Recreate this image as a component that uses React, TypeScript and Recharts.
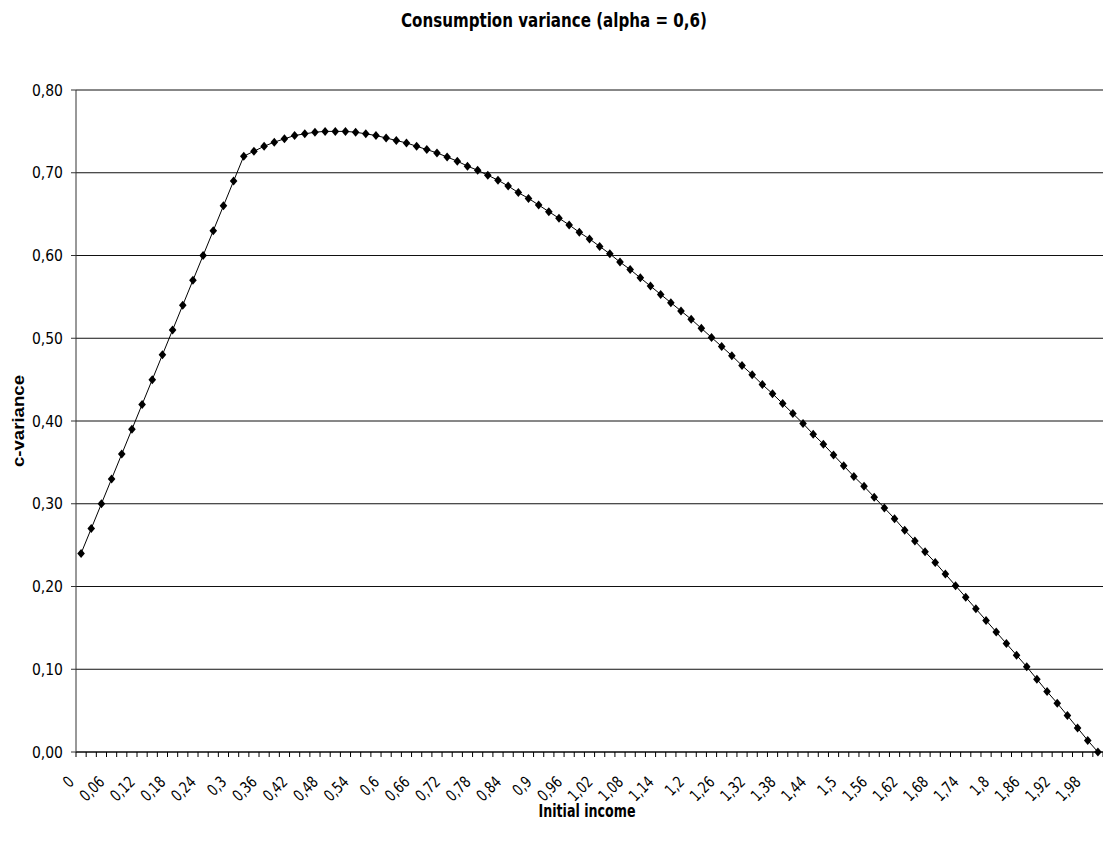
import { LineChart, Line, XAxis, YAxis, CartesianGrid } from "recharts";

// x categories (initial income), as printed on the axis
const incomes = [
  "0", "0,02", "0,04", "0,06", "0,08", "0,1", "0,12", "0,14", "0,16", "0,18",
  "0,2", "0,22", "0,24", "0,26", "0,28", "0,3", "0,32", "0,34", "0,36", "0,38",
  "0,4", "0,42", "0,44", "0,46", "0,48", "0,5", "0,52", "0,54", "0,56", "0,58",
  "0,6", "0,62", "0,64", "0,66", "0,68", "0,7", "0,72", "0,74", "0,76", "0,78",
  "0,8", "0,82", "0,84", "0,86", "0,88", "0,9", "0,92", "0,94", "0,96", "0,98",
  "1", "1,02", "1,04", "1,06", "1,08", "1,1", "1,12", "1,14", "1,16", "1,18",
  "1,2", "1,22", "1,24", "1,26", "1,28", "1,3", "1,32", "1,34", "1,36", "1,38",
  "1,4", "1,42", "1,44", "1,46", "1,48", "1,5", "1,52", "1,54", "1,56", "1,58",
  "1,6", "1,62", "1,64", "1,66", "1,68", "1,7", "1,72", "1,74", "1,76", "1,78",
  "1,8", "1,82", "1,84", "1,86", "1,88", "1,9", "1,92", "1,94", "1,96", "1,98",
  "2",
];

// consumption variance
const cVariance = [
  0.24, 0.27, 0.3, 0.33, 0.36, 0.39, 0.42, 0.45, 0.48, 0.51,
  0.54, 0.57, 0.6, 0.63, 0.66, 0.69, 0.72, 0.726, 0.732, 0.737,
  0.741, 0.745, 0.747, 0.749, 0.75, 0.75, 0.75, 0.749, 0.747, 0.745,
  0.742, 0.739, 0.736, 0.732, 0.728, 0.724, 0.719, 0.714, 0.708, 0.703,
  0.697, 0.691, 0.684, 0.676, 0.669, 0.661, 0.653, 0.645, 0.637, 0.628,
  0.62, 0.611, 0.602, 0.592, 0.583, 0.573, 0.563, 0.553, 0.543, 0.533,
  0.523, 0.512, 0.501, 0.49, 0.479, 0.467, 0.456, 0.444, 0.433, 0.421,
  0.409, 0.397, 0.384, 0.372, 0.359, 0.346, 0.333, 0.321, 0.308, 0.295,
  0.282, 0.268, 0.255, 0.242, 0.229, 0.215, 0.201, 0.187, 0.173, 0.159,
  0.145, 0.131, 0.117, 0.103, 0.088, 0.073, 0.059, 0.044, 0.029, 0.014,
  0,
];

const varianceTicks = [0, 0.1, 0.2, 0.3, 0.4, 0.5, 0.6, 0.7, 0.8];

const data = incomes.map((income, i) => ({ income, cvar: cVariance[i] }));

const WIDTH = 1103;
const HEIGHT = 852;
const PLOT_LEFT = 76;
const HALF_STEP = (WIDTH - PLOT_LEFT) / incomes.length / 2;
const NARROW = "'Liberation Sans Narrow', 'Arial Narrow', 'DejaVu Sans Condensed', sans-serif";

const fmt = (v: number) => v.toFixed(2).replace(".", ",");

// tick marks sit between categories, labels only on every third one
const IncomeTick = (props: any) => {
  const { x, y, index, payload } = props;
  const tx = x - 6;
  const ty = y + 31;
  return (
    <g>
      <line x1={x - HALF_STEP} x2={x - HALF_STEP} y1={y} y2={y + 5} stroke="#000" />
      {index === incomes.length - 1 && (
        <line x1={x + HALF_STEP} x2={x + HALF_STEP} y1={y} y2={y + 5} stroke="#000" />
      )}
      {index % 3 === 0 && (
        <text
          x={0}
          y={0}
          transform={`translate(${tx}, ${ty}) rotate(-45) scale(0.85, 1)`}
          textAnchor="end"
          fontFamily={NARROW}
          fontSize={16}
          fill="#000"
        >
          {payload.value}
        </text>
      )}
    </g>
  );
};

const Diamond = (props: any) => {
  const { cx, cy, index } = props;
  if (cx == null || cy == null) return <g key={index} />;
  return (
    <polygon
      key={index}
      points={`${cx},${cy - 4.5} ${cx + 3.8},${cy} ${cx},${cy + 4.5} ${cx - 3.8},${cy}`}
      fill="#000"
    />
  );
};

export default function App() {
  return (
    <div style={{ position: "absolute", left: 0, top: 0, width: WIDTH, height: HEIGHT, background: "#fff" }}>
      <LineChart
        width={WIDTH}
        height={HEIGHT}
        data={data}
        margin={{ top: 90, right: 0, bottom: 40, left: 0 }}
      >
        <CartesianGrid vertical={false} stroke="#111" />
        <XAxis
          dataKey="income"
          interval={0}
          height={60}
          padding={{ left: HALF_STEP, right: HALF_STEP }}
          axisLine={{ stroke: "#000" }}
          tickLine={false}
          tickSize={0}
          tickMargin={0}
          tick={<IncomeTick />}
        />
        <YAxis
          width={PLOT_LEFT}
          domain={[0, 0.8]}
          ticks={varianceTicks}
          interval={0}
          tickFormatter={fmt}
          tickSize={5}
          tickMargin={8}
          axisLine={{ stroke: "#333" }}
          tickLine={{ stroke: "#333" }}
          tick={{ fill: "#000", fontFamily: NARROW, fontSize: 15.5 }}
        />
        <Line
          type="linear"
          dataKey="cvar"
          stroke="#000"
          strokeWidth={1}
          dot={Diamond}
          activeDot={false}
          isAnimationActive={false}
        />
      </LineChart>
      <svg
        width={WIDTH}
        height={HEIGHT}
        style={{ position: "absolute", left: 0, top: 0, pointerEvents: "none" }}
      >
        <text
          x={554}
          y={27}
          textAnchor="middle"
          fontFamily={NARROW}
          fontWeight="bold"
          fontSize={20}
          textLength={306}
          lengthAdjust="spacingAndGlyphs"
        >
          Consumption variance (alpha = 0,6)
        </text>
        <text
          x={587}
          y={817}
          textAnchor="middle"
          fontFamily={NARROW}
          fontWeight="bold"
          fontSize={17}
          textLength={97}
          lengthAdjust="spacingAndGlyphs"
        >
          Initial income
        </text>
        <text
          x={24}
          y={421}
          transform="rotate(-90, 24, 421)"
          textAnchor="middle"
          fontFamily="'Liberation Sans', Arial, sans-serif"
          fontWeight="bold"
          fontSize={16}
          textLength={92}
          lengthAdjust="spacingAndGlyphs"
        >
          c-variance
        </text>
      </svg>
    </div>
  );
}
